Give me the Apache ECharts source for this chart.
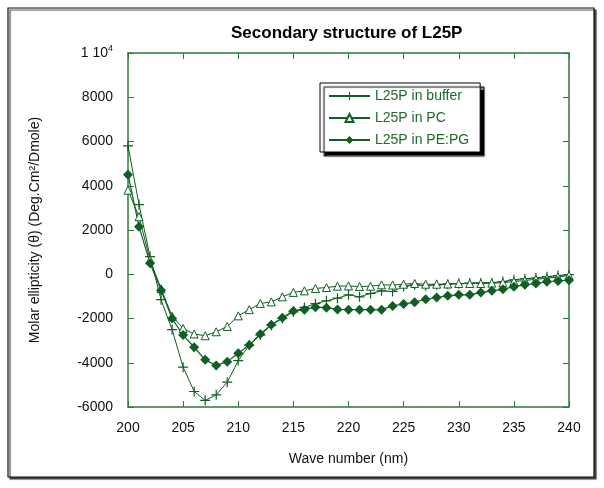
<!DOCTYPE html>
<html>
<head>
<meta charset="utf-8">
<script src="https://cdn.jsdelivr.net/npm/echarts@6/dist/echarts.min.js"></script>
<style>html,body{margin:0;padding:0;background:#fff}#c{width:604px;height:488px}</style>
</head>
<body>
<div id="c"></div>
<script>
var wavelengths = [200,201,202,203,204,205,206,207,208,209,210,211,212,213,214,215,216,217,218,219,220,221,222,223,224,225,226,227,228,229,230,231,232,233,234,235,236,237,238,239,240];
var bufferVals = [5800,3150,800,-1150,-2500,-4200,-5300,-5700,-5450,-4880,-3900,-3200,-2750,-2300,-2000,-1700,-1500,-1330,-1200,-1080,-930,-1020,-870,-750,-780,-550,-480,-520,-480,-450,-420,-400,-390,-380,-330,-250,-200,-170,-110,-60,-20];
var pcVals = [3800,2600,650,-650,-1900,-2450,-2700,-2780,-2600,-2360,-1880,-1600,-1320,-1250,-1020,-820,-750,-640,-600,-540,-530,-555,-540,-480,-490,-450,-420,-450,-450,-440,-420,-420,-420,-400,-380,-330,-280,-230,-180,-120,-60];
var pepgVals = [4500,2150,500,-720,-2000,-2750,-3300,-3870,-4120,-3950,-3570,-3200,-2700,-2280,-1970,-1660,-1600,-1490,-1510,-1590,-1600,-1600,-1600,-1600,-1430,-1350,-1260,-1130,-1050,-975,-930,-930,-830,-750,-680,-560,-480,-420,-340,-300,-270];
var seriesNames = ['L25P in buffer','L25P in PC','L25P in PE:PG'];
var titleText = 'Secondary structure of L25P';
var xName = 'Wave number (nm)';
var yName = 'Molar ellipticity (\u03B8) (Deg.Cm\u00B2/Dmole)';

function pairs(v){ return wavelengths.map(function(w,i){ return [w, v[i]]; }); }

var FONT = 'Liberation Sans, Arial, sans-serif';
var AX = '#2f7a35';
var LN = '#0f5f22';
var crossPath = 'path://M4.4,0h1.2v10h-1.2z M0,4.4h10v1.2h-10z';

var chart = echarts.init(document.getElementById('c'), null, {renderer:'canvas'});
chart.setOption({
  animation: false,
  backgroundColor: '#fff',
  textStyle: {fontFamily: FONT},
  title: {
    text: titleText, left: 226, top: 20,
    textStyle: {fontSize: 17, fontWeight: 'bold', color: '#000', fontFamily: FONT}
  },
  graphic: [{
    type: 'rect', z: -10, silent: true,
    shape: {x: 8, y: 8, width: 586, height: 469},
    style: {fill: '#fff', stroke: '#111', lineWidth: 1.2, shadowColor: '#444', shadowOffsetX: 2, shadowOffsetY: 2, shadowBlur: 1}
  }],
  legend: {
    data: seriesNames, orient: 'vertical', left: 320, top: 83,
    itemWidth: 41, itemHeight: 10, itemGap: 8, padding: [6, 11, 5, 8],
    backgroundColor: '#fff', borderColor: '#000', borderWidth: 1,
    shadowColor: '#000', shadowOffsetX: 4, shadowOffsetY: 4, shadowBlur: 1,
    textStyle: {color: '#1d6a2a', fontSize: 14, fontFamily: FONT}
  },
  grid: {left: 128, right: 35, top: 53, bottom: 81},
  xAxis: [{
    type: 'value', min: 200, max: 240, interval: 5,
    name: xName, nameLocation: 'middle', nameGap: 45,
    nameTextStyle: {fontSize: 14, color: '#111', fontFamily: FONT},
    axisLine: {show: true, onZero: false, lineStyle: {color: AX, width: 1.5}},
    axisTick: {inside: true, length: 6, lineStyle: {color: AX}},
    axisLabel: {fontSize: 14, color: '#111', margin: 14, fontFamily: FONT},
    splitLine: {show: false}
  },{
    type: 'value', position: 'top', min: 200, max: 240, interval: 5,
    axisLine: {show: true, onZero: false, lineStyle: {color: AX, width: 1.5}},
    axisTick: {inside: true, length: 6, lineStyle: {color: AX}},
    axisLabel: {show: false}, splitLine: {show: false}
  }],
  yAxis: [{
    type: 'value', min: -6000, max: 10000, interval: 2000,
    name: yName, nameLocation: 'middle', nameGap: 86, nameRotate: 90,
    nameTextStyle: {fontSize: 14, color: '#111', fontFamily: FONT},
    axisLine: {show: true, onZero: false, lineStyle: {color: AX, width: 1.5}},
    axisTick: {inside: true, length: 6, lineStyle: {color: AX}},
    axisLabel: {
      fontSize: 14, color: '#111', margin: 15, fontFamily: FONT,
      formatter: function(v){ return v === 10000 ? '1 10{s|4}' : String(v); },
      rich: {s: {fontSize: 9, color: '#111', padding: [0,0,8,0], fontFamily: FONT}}
    },
    splitLine: {show: false}
  },{
    type: 'value', position: 'right', min: -6000, max: 10000, interval: 2000,
    axisLine: {show: true, onZero: false, lineStyle: {color: AX, width: 1.5}},
    axisTick: {inside: true, length: 6, lineStyle: {color: AX}},
    axisLabel: {show: false}, splitLine: {show: false}
  }],
  series: [{
    name: seriesNames[0], type: 'line', data: pairs(bufferVals),
    symbol: crossPath, symbolSize: 10, showAllSymbol: true,
    lineStyle: {color: LN, width: 1}, itemStyle: {color: LN}
  },{
    name: seriesNames[1], type: 'line', data: pairs(pcVals),
    symbol: 'triangle', symbolSize: 8, showAllSymbol: true,
    lineStyle: {color: LN, width: 1}, itemStyle: {color: '#fff', borderColor: LN, borderWidth: 1}
  },{
    name: seriesNames[2], type: 'line', data: pairs(pepgVals),
    symbol: 'diamond', symbolSize: 10, showAllSymbol: true,
    lineStyle: {color: LN, width: 1.2}, itemStyle: {color: LN}
  }]
});
</script>
</body>
</html>
